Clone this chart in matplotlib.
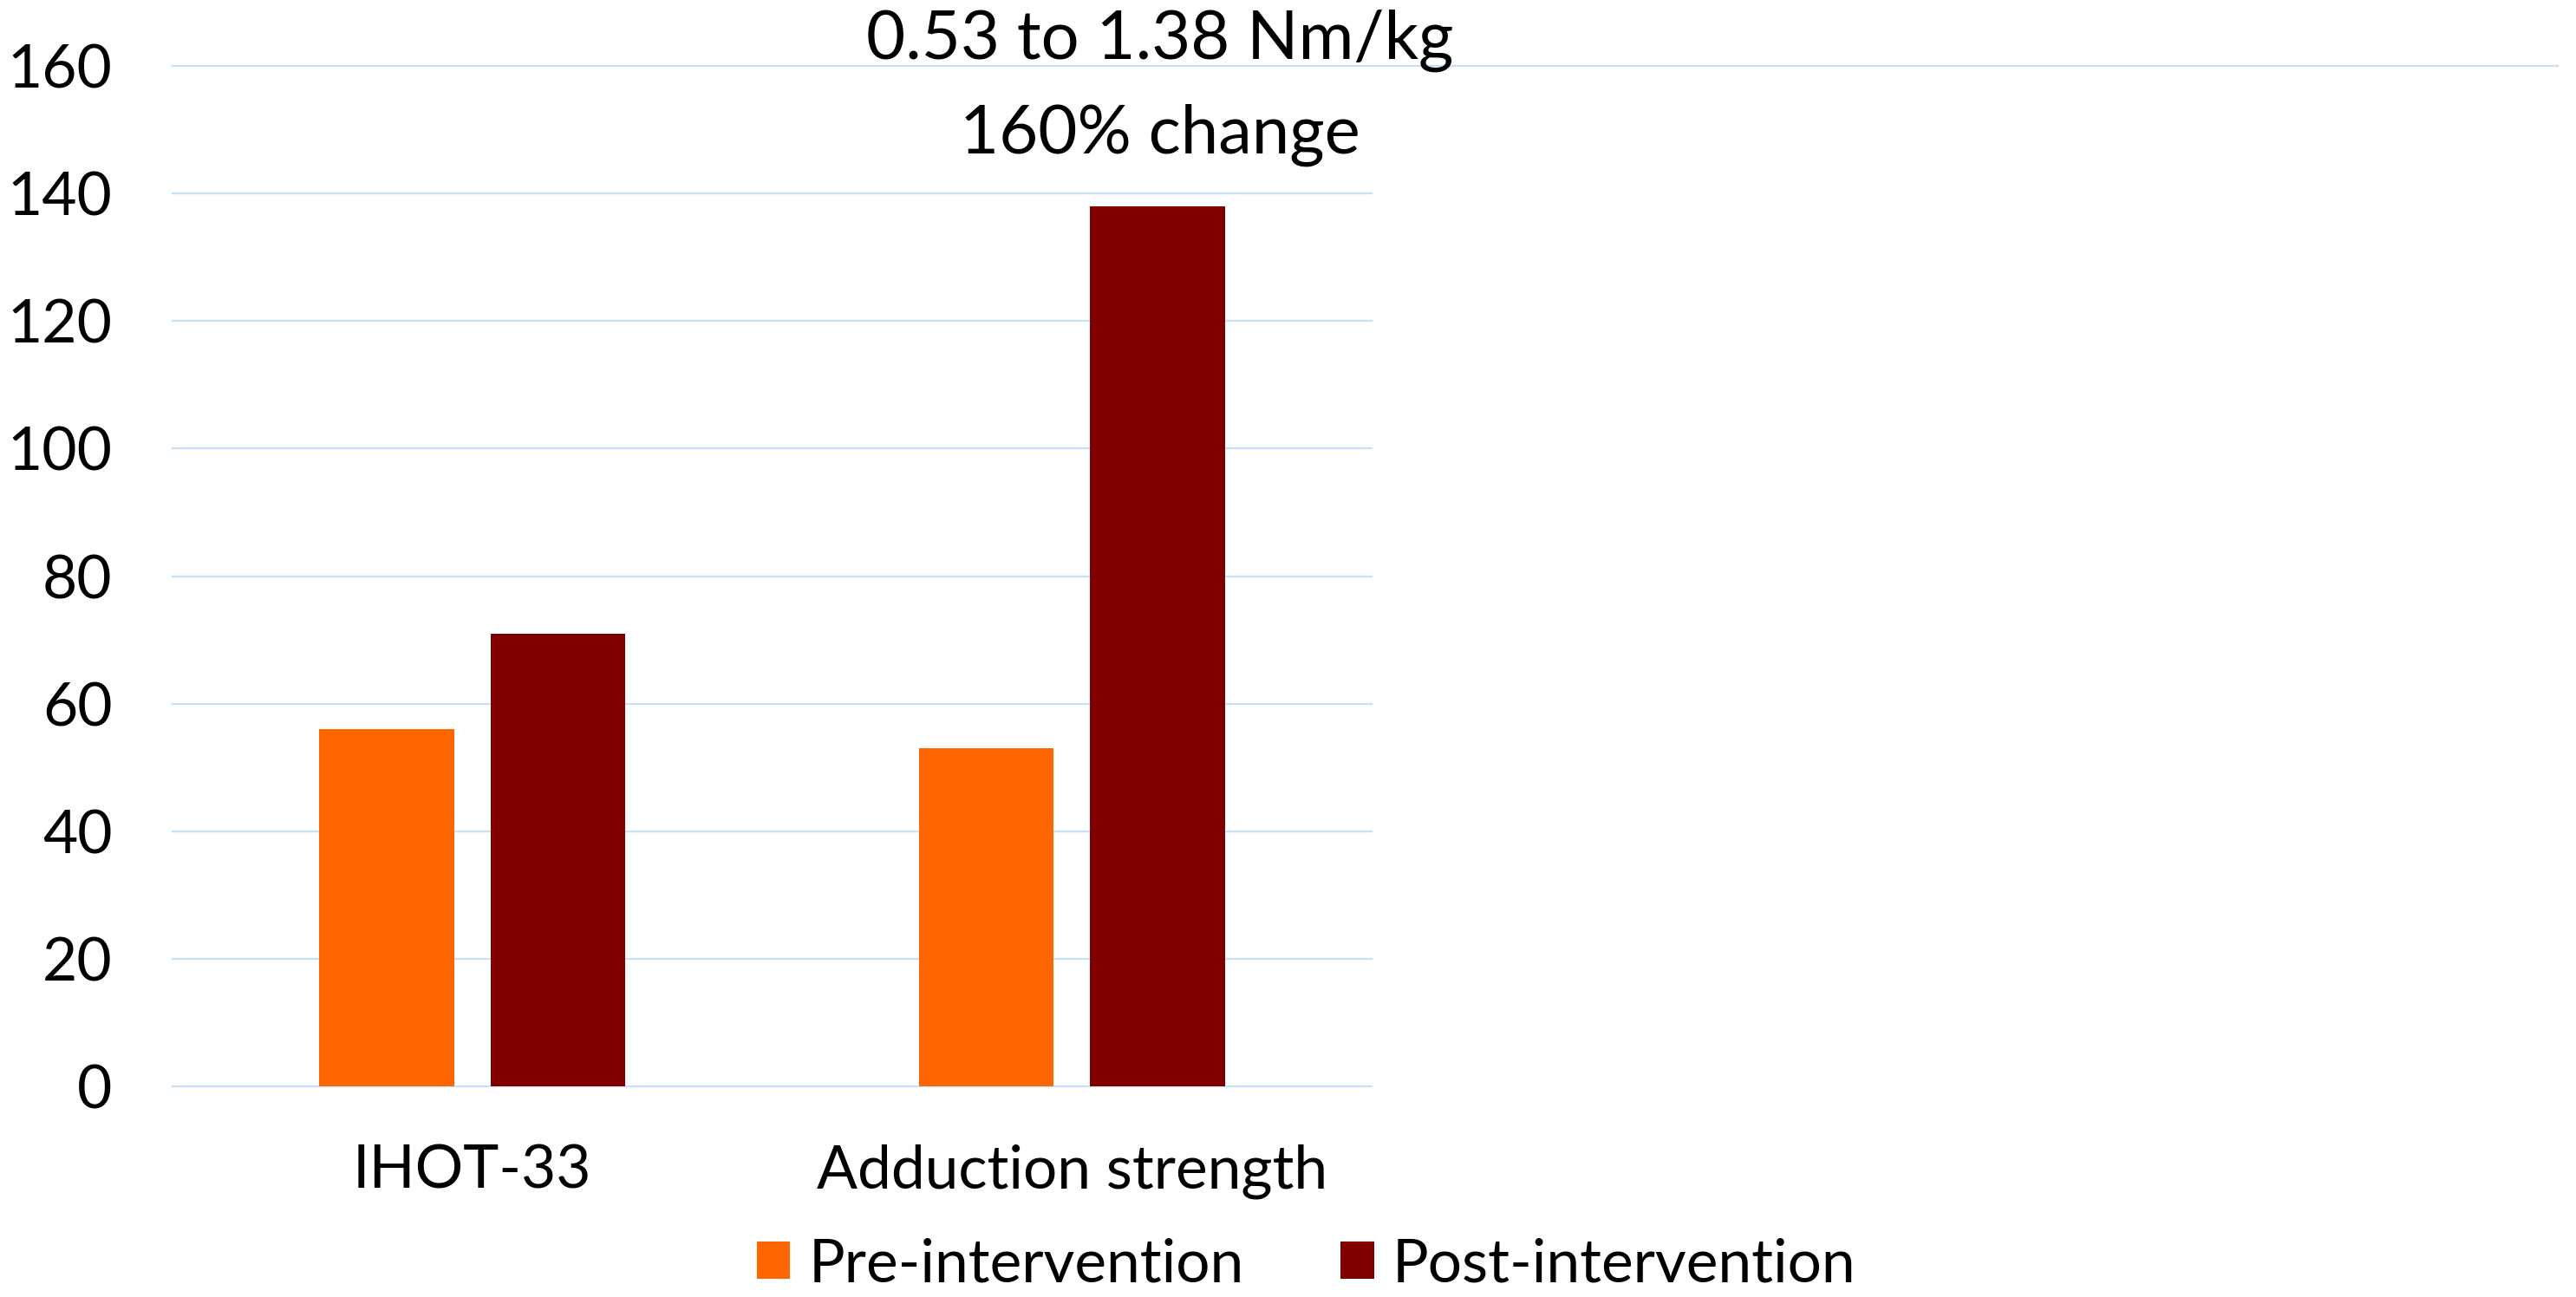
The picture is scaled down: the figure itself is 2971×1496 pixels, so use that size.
import matplotlib.pyplot as plt
import numpy as np

plt.rcParams['font.family'] = ['Lato', 'DejaVu Sans']

# outcome measures, pre vs post
categories = ['IHOT-33', 'Adduction strength']
pre_vals = [56, 53]
post_vals = [71, 138]
series_names = ['Pre-intervention', 'Post-intervention']
note_lines = ['0.53 to 1.38 Nm/kg', '160% change']

pre_col = '#FF6600'
post_col = '#800000'
grid_col = '#C8E1F7'
fs = 50
note_fs = 56

fig = plt.figure(figsize=(29.71, 14.96), dpi=100)
ax = fig.add_axes([0.067, 0.1624, 0.4655, 0.7868])

x = np.arange(len(categories))
w = 0.225
off = 0.143
b1 = ax.bar(x - off, pre_vals, w, color=pre_col, label=series_names[0], zorder=3)
b2 = ax.bar(x + off, post_vals, w, color=post_col, label=series_names[1], zorder=3)

ax.set_xlim(-0.5, 1.5)
ax.set_ylim(0, 160)
ax.set_yticks(range(0, 161, 20))
ax.set_xticks(x)
ax.set_xticklabels(categories)

# light blue gridlines, top one runs out to the right edge
for v in range(0, 160, 20):
    ax.axhline(v, color=grid_col, lw=1.6, zorder=1, clip_on=False)
ax.axhline(160, xmin=0, xmax=(2950 - 199) / (1582 - 199), color=grid_col,
           lw=1.6, zorder=1, clip_on=False)

for s in ax.spines.values():
    s.set_visible(False)
ax.tick_params(axis='both', length=0, labelsize=fs, colors='black')
ax.tick_params(axis='y', pad=50)
ax.tick_params(axis='x', pad=48)

ax.text(1.147, 164, note_lines[0], ha='center', va='center', fontsize=note_fs)
ax.text(1.147, 149.2, note_lines[1], ha='center', va='center', fontsize=note_fs)

fig.legend(handles=[b1, b2], loc='center', bbox_to_anchor=(0.507, 0.025),
           ncol=2, frameon=False, fontsize=fs, handlelength=0.56,
           handleheight=0.56, handletextpad=0.3, columnspacing=1.6)

fig.savefig('out.png', dpi=100)
